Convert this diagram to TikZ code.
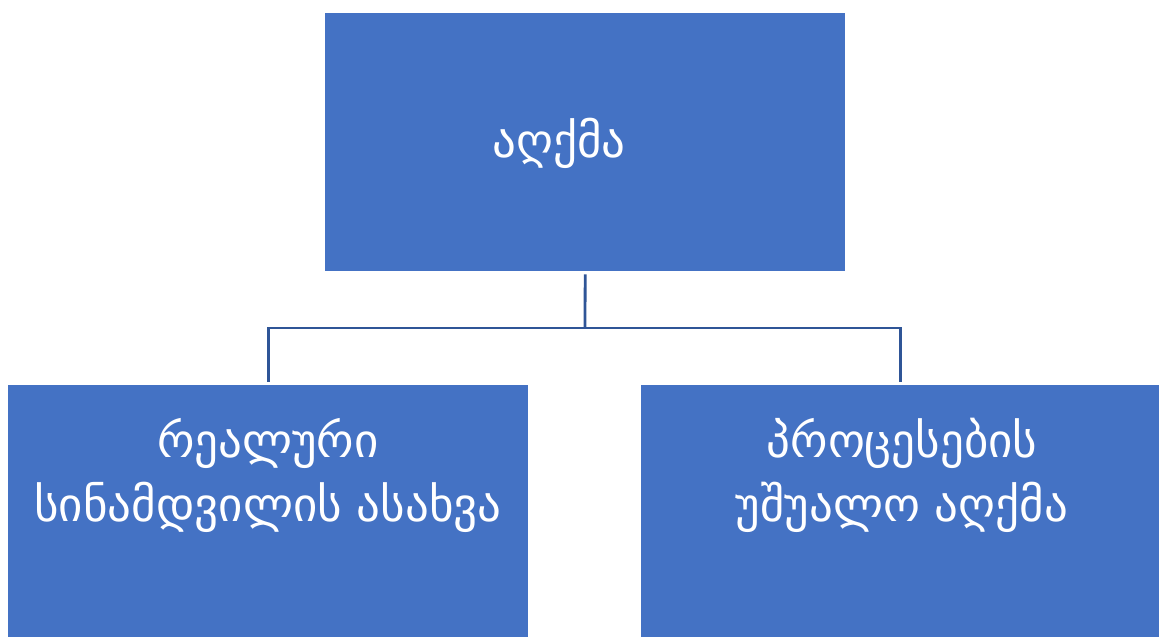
\documentclass[tikz,border=0pt]{standalone}
\usepackage{fontspec}
\newfontfamily\geo{DejaVu Sans}
\definecolor{boxblue}{HTML}{4472C4}
\definecolor{lineblue}{HTML}{2F5597}
\begin{document}
\begin{tikzpicture}[x=1pt,y=-1pt,
  box/.style={draw=none,fill=boxblue,minimum width=520pt,anchor=north west,inner sep=0pt},
  lbl/.style={text=white,font=\geo\fontsize{47}{64}\selectfont,align=center,inner sep=0pt},
  conn/.style={draw=lineblue,line width=2.8pt}]
\useasboundingbox (0,0) rectangle (1159,637);
\node[box,minimum height=258pt] (top) at (325,13) {};
\node[box,minimum height=252pt] (bl) at (8,385) {};
\node[box,minimum height=252pt,minimum width=518pt] (br) at (641,385) {};
\node[lbl] (ttop) at (559,143) {აღქმა};
\node[lbl] (tbl) at (268,475) {რეალური\\სინამდვილის ასახვა};
\node[lbl] (tbr) at (902,475) {პროცესების\\უშუალო აღქმა};
\coordinate (j) at (585,328);
\draw[conn,shorten <=3pt] (top.south) -- (j);
\draw[conn,shorten >=3pt] (j) -| (bl.north);
\draw[conn,shorten >=3pt] (j) -| (br.north);
\end{tikzpicture}
\end{document}
